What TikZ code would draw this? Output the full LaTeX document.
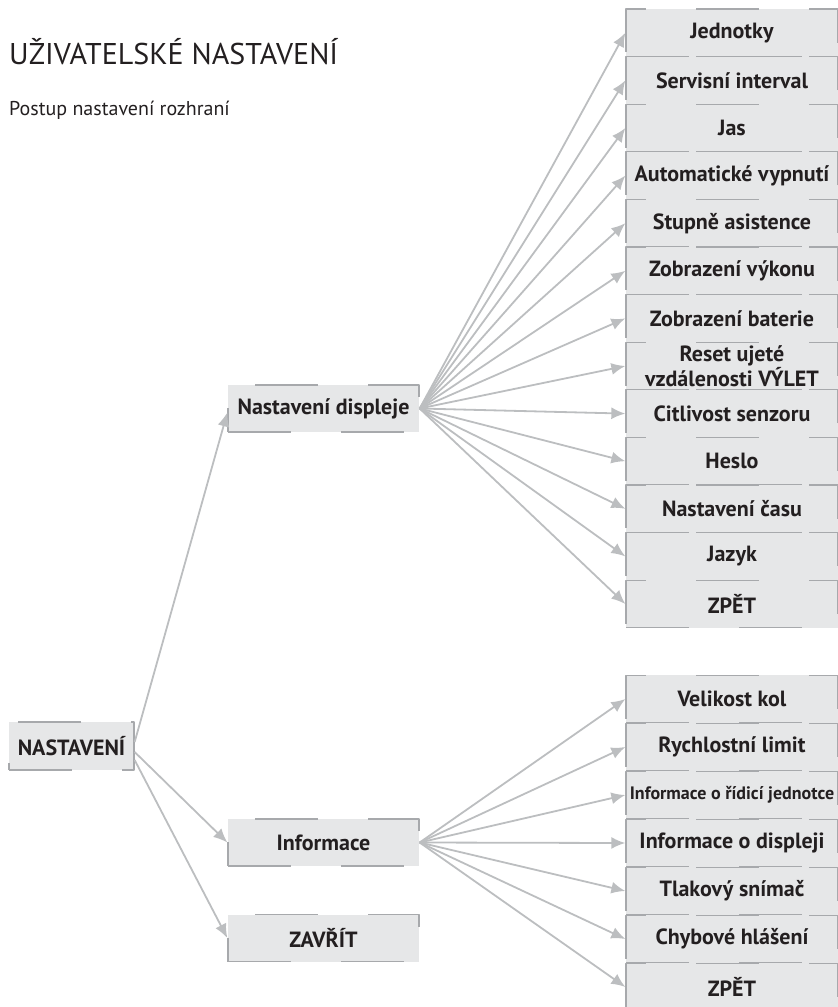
\documentclass[tikz,border=0pt]{standalone}
\usepackage{fontspec}
\setmainfont{PT Sans}
\usetikzlibrary{arrows.meta}

\definecolor{boxfill}{HTML}{E6E7E8}
\definecolor{boxline}{HTML}{A7A9AC}
\definecolor{linkgray}{HTML}{BCBEC0}
\definecolor{textdark}{HTML}{231F20}

\begin{document}
\begin{tikzpicture}[x=1pt, y=-1pt, line join=round,
  menubox/.style={rectangle, fill=boxfill, draw=boxline, line width=1.3pt,
    dash pattern=on 63pt off 50pt, text=textdark, inner sep=1pt,
    font=\fontsize{22}{22}\selectfont\bfseries, align=center},
  rootbox/.style={menubox, minimum width=125pt, minimum height=48pt},
  midbox/.style={menubox, minimum width=191pt, minimum height=47pt},
  itembox/.style={menubox, minimum width=212pt, minimum height=47.6pt},
  link/.style={draw=linkgray, line width=1.8pt, -{Latex[length=14pt,width=12pt]}}]

% Page frame
\useasboundingbox (0,0) rectangle (838,1007);

% Title
\node[anchor=base west, inner sep=0pt, text=textdark, font=\fontsize{30}{31}\selectfont] (title) at (9,64) {UŽIVATELSKÉ NASTAVENÍ};
\node[anchor=base west, inner sep=0pt, text=textdark, font=\fontsize{20}{21}\selectfont] (subtitle) at (9,115) {Postup nastavení rozhraní};

% Main menu and submenus
\node[rootbox] (root) at (71.5,746) {NASTAVENÍ};
\node[midbox] (disp) at (323.5,408.5) {Nastavení displeje};
\node[midbox] (info) at (323.5,842.5) {Informace};
\node[midbox] (close) at (323.5,938) {ZAVŘÍT};

% Display settings items
\node[itembox] (d1) at (732,32.8) {Jednotky};
\node[itembox] (d2) at (732,80.4) {Servisní interval};
\node[itembox] (d3) at (732,128) {Jas};
\node[itembox] (d4) at (732,175.6) {Automatické vypnutí};
\node[itembox] (d5) at (732,223.2) {Stupně asistence};
\node[itembox] (d6) at (732,270.8) {Zobrazení výkonu};
\node[itembox] (d7) at (732,318.4) {Zobrazení baterie};
\node[itembox] (d8) at (732,366) {Reset ujeté\\vzdálenosti VÝLET};
\node[itembox] (d9) at (732,413.6) {Citlivost senzoru};
\node[itembox] (d10) at (732,461.2) {Heslo};
\node[itembox] (d11) at (732,508.8) {Nastavení času};
\node[itembox] (d12) at (732,556.4) {Jazyk};
\node[itembox] (d13) at (732,604) {ZPĚT};

% Information items
\node[itembox] (i1) at (732,699) {Velikost kol};
\node[itembox] (i2) at (732,747) {Rychlostní limit};
\node[itembox, font=\fontsize{18}{18}\selectfont\bfseries] (i3) at (732,795) {Informace o řídicí jednotce};
\node[itembox] (i4) at (732,843) {Informace o displeji};
\node[itembox] (i5) at (732,891) {Tlakový snímač};
\node[itembox] (i6) at (732,939) {Chybové hlášení};
\node[itembox] (i7) at (732,987) {ZPĚT};

% Arrows from the main menu
\draw[link] ([yshift=4pt]root.east) -- ([yshift=-4pt]disp.west);
\draw[link] ([yshift=-6pt]root.east) -- (info.west);
\draw[link] ([yshift=-14pt]root.east) -- (close.west);

% Fan to display settings
\draw[link] (disp.east) -- (d1.west);
\draw[link] (disp.east) -- (d2.west);
\draw[link] (disp.east) -- (d3.west);
\draw[link] (disp.east) -- (d4.west);
\draw[link] (disp.east) -- (d5.west);
\draw[link] (disp.east) -- (d6.west);
\draw[link] (disp.east) -- (d7.west);
\draw[link] (disp.east) -- (d8.west);
\draw[link] (disp.east) -- (d9.west);
\draw[link] (disp.east) -- (d10.west);
\draw[link] (disp.east) -- (d11.west);
\draw[link] (disp.east) -- (d12.west);
\draw[link] (disp.east) -- (d13.west);

% Fan to information items
\draw[link] (info.east) -- (i1.west);
\draw[link] (info.east) -- (i2.west);
\draw[link] (info.east) -- (i3.west);
\draw[link] (info.east) -- (i4.west);
\draw[link] (info.east) -- (i5.west);
\draw[link] (info.east) -- (i6.west);
\draw[link] (info.east) -- (i7.west);

\end{tikzpicture}
\end{document}
